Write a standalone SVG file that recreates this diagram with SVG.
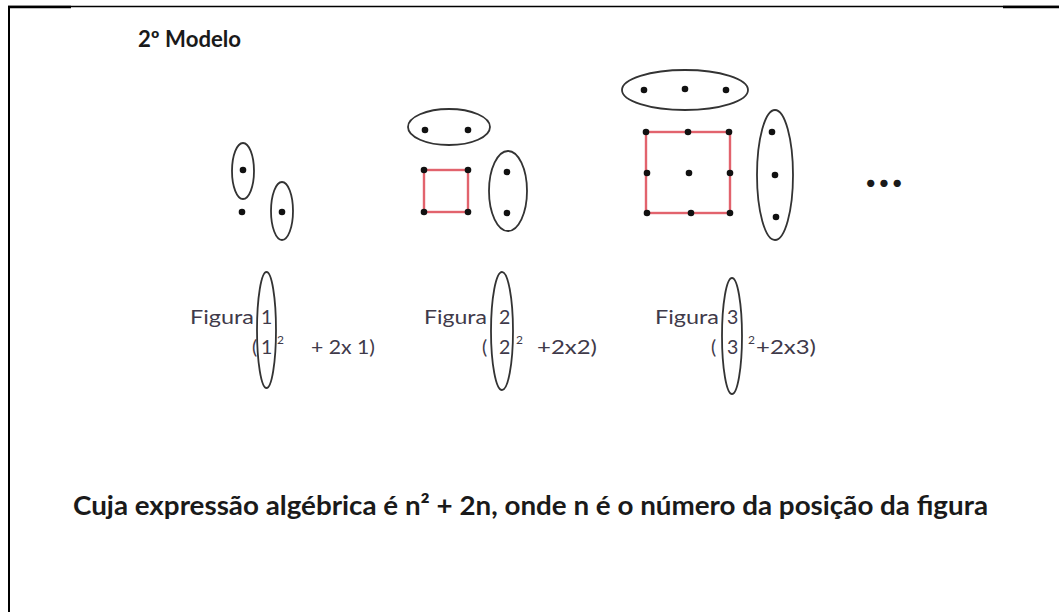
<svg xmlns="http://www.w3.org/2000/svg" width="1059" height="612" viewBox="0 0 1059 612">
<style>
.ring{fill:none;stroke:#333;stroke-width:1.8}
.sq{fill:none;stroke:#e2636d;stroke-width:2.4}
.dot{fill:#111}
.lbl{font-family:Lato,"Liberation Sans",sans-serif;font-size:19.5px;fill:#3f3a4a}
.sup{font-family:Lato,"Liberation Sans",sans-serif;font-size:12px;fill:#3f3a4a}
.bold{font-family:Lato,"Liberation Sans",sans-serif;font-weight:bold;fill:#1a1a1a}
</style>
<rect width="1059" height="612" fill="#fff"/>
<g id="frame" stroke="#000" fill="none">
<line x1="8" y1="6.5" x2="1059" y2="6.5" stroke-width="1.5"/>
<line x1="8" y1="7" x2="71" y2="7" stroke-width="2.5"/>
<line x1="1003" y1="7" x2="1059" y2="7" stroke-width="2.5"/>
<line x1="9" y1="6" x2="9" y2="612" stroke-width="2"/>
</g>
<text id="title" class="bold" x="138" y="47" font-size="22" textLength="103" lengthAdjust="spacingAndGlyphs">2º Modelo</text>
<g id="figure1">
<ellipse class="ring" cx="243" cy="171" rx="11" ry="28"/>
<ellipse class="ring" cx="282" cy="211" rx="11" ry="29"/>
<circle class="dot" cx="243" cy="170" r="3.3"/>
<circle class="dot" cx="242" cy="212" r="3.3"/>
<circle class="dot" cx="282" cy="212" r="3.3"/>
</g>
<g id="figure2">
<ellipse class="ring" cx="449" cy="127" rx="41" ry="18"/>
<ellipse class="ring" cx="508" cy="191" rx="19" ry="40"/>
<rect class="sq" x="424" y="170" width="44" height="42"/>
<circle class="dot" cx="425" cy="130" r="3.3"/>
<circle class="dot" cx="468" cy="130" r="3.3"/>
<circle class="dot" cx="424" cy="170" r="3.3"/>
<circle class="dot" cx="468" cy="170" r="3.3"/>
<circle class="dot" cx="424" cy="212" r="3.3"/>
<circle class="dot" cx="468" cy="212" r="3.3"/>
<circle class="dot" cx="507" cy="172" r="3.3"/>
<circle class="dot" cx="507" cy="213" r="3.3"/>
</g>
<g id="figure3">
<ellipse class="ring" cx="685" cy="90" rx="63" ry="20"/>
<ellipse class="ring" cx="775" cy="175" rx="18" ry="65"/>
<rect class="sq" x="646" y="132" width="84" height="81"/>
<circle class="dot" cx="644" cy="90" r="3.3"/>
<circle class="dot" cx="685" cy="89" r="3.3"/>
<circle class="dot" cx="726" cy="90" r="3.3"/>
<circle class="dot" cx="646" cy="132" r="3.3"/>
<circle class="dot" cx="688" cy="132" r="3.3"/>
<circle class="dot" cx="729" cy="132" r="3.3"/>
<circle class="dot" cx="647" cy="173" r="3.3"/>
<circle class="dot" cx="689" cy="173" r="3.3"/>
<circle class="dot" cx="730" cy="173" r="3.3"/>
<circle class="dot" cx="647" cy="213" r="3.3"/>
<circle class="dot" cx="691" cy="213" r="3.3"/>
<circle class="dot" cx="730" cy="213" r="3.3"/>
<circle class="dot" cx="772" cy="132" r="3.3"/>
<circle class="dot" cx="775" cy="175" r="3.3"/>
<circle class="dot" cx="776" cy="217" r="3.3"/>
</g>
<text id="ellipsis" class="bold" x="865" y="187" font-size="48" fill="#111" textLength="38" lengthAdjust="spacing">...</text>
<g id="label1">
<ellipse class="ring" cx="266.5" cy="330" rx="9.5" ry="58"/>
<text class="lbl" x="190" y="324" textLength="64" lengthAdjust="spacingAndGlyphs">Figura</text>
<text class="lbl" x="261" y="324">1</text>
<text class="lbl" x="252" y="354">(</text>
<text class="lbl" x="261" y="354">1</text>
<text class="sup" x="277" y="344">2</text>
<text class="lbl" x="311" y="354" textLength="64" lengthAdjust="spacingAndGlyphs">+ 2x 1)</text>
</g>
<g id="label2">
<ellipse class="ring" cx="502" cy="331" rx="11" ry="59"/>
<text class="lbl" x="424" y="324" textLength="63" lengthAdjust="spacingAndGlyphs">Figura</text>
<text class="lbl" x="499" y="324">2</text>
<text class="lbl" x="482" y="354">(</text>
<text class="lbl" x="499" y="354">2</text>
<text class="sup" x="516" y="344">2</text>
<text class="lbl" x="537" y="354" textLength="60" lengthAdjust="spacingAndGlyphs">+2x2)</text>
</g>
<g id="label3">
<ellipse class="ring" cx="732" cy="336" rx="10" ry="58"/>
<text class="lbl" x="655" y="324" textLength="64" lengthAdjust="spacingAndGlyphs">Figura</text>
<text class="lbl" x="727" y="324">3</text>
<text class="lbl" x="711" y="354">(</text>
<text class="lbl" x="727" y="354">3</text>
<text class="sup" x="748" y="344">2</text>
<text class="lbl" x="756" y="354" textLength="60" lengthAdjust="spacingAndGlyphs">+2x3)</text>
</g>
<text id="formula" class="bold" x="73" y="515" font-size="26" textLength="915" lengthAdjust="spacingAndGlyphs">Cuja expressão algébrica é n² + 2n, onde n é o número da posição da figura</text>
</svg>
